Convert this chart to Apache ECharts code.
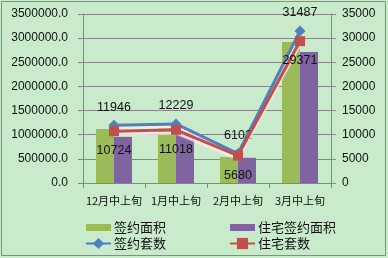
<!DOCTYPE html>
<html><head><meta charset="utf-8">
<script src="https://cdn.jsdelivr.net/npm/echarts@6/dist/echarts.min.js"></script>
<style>html,body{margin:0;padding:0;background:#c9ebcb;}#c{width:388px;height:258px;}</style>
</head><body><div id="c"></div>
<script>
var categories = ['12月中上旬','1月中上旬','2月中上旬','3月中上旬'];
var signArea = [1120000, 1150000, 540000, 2920000];
var resArea = [955000, 1060000, 522000, 2715000];
var signCount = [11946, 12229, 6102, 31487];
var resCount = [10724, 11018, 5680, 29371];
var leftTicks = {min: 0, max: 3500000, interval: 500000};
var rightTicks = {min: 0, max: 35000, interval: 5000};

var FONT = '"Liberation Sans", Arial, sans-serif';
var CJK = '"Noto Sans CJK SC", sans-serif';
var axisCol = '#868686';
var chart = echarts.init(document.getElementById('c'));
chart.setOption({
  backgroundColor: '#c9ebcb',
  animation: false,
  graphic: [{type:'rect', shape:{x:1.5,y:1.5,width:384,height:254}, style:{fill:'none', stroke:'#8a8a8a', lineWidth:1}, z:-1}],
  grid: {left: 83, right: 57, top: 14, bottom: 75},
  legend: [{
    left: 80, top: 216, orient: 'vertical', itemGap: 3, itemWidth: 25, itemHeight: 14,
    textStyle: {fontFamily: CJK, fontSize: 13, color: '#111', padding:[0,0,0,-2]},
    data: [{name:'签约面积', icon:'path://M0,0h25v7h-25z'}, {name:'签约套数'}]
  },{
    left: 224, top: 216, orient: 'vertical', itemGap: 3, itemWidth: 25, itemHeight: 14,
    textStyle: {fontFamily: CJK, fontSize: 13, color: '#111', padding:[0,0,0,-2]},
    data: [{name:'住宅签约面积', icon:'path://M0,0h25v7h-25z'}, {name:'住宅套数'}]
  }],
  xAxis: {
    type: 'category', data: categories, boundaryGap: true,
    axisLine: {lineStyle: {color: axisCol}},
    axisTick: {show: true, inside: false, length: 5, alignWithLabel: false, lineStyle:{color: axisCol}},
    axisLabel: {fontFamily: CJK, fontSize: 11, color: '#111', margin: 12, interval: 0}
  },
  yAxis: [{
    type: 'value', min: leftTicks.min, max: leftTicks.max, interval: leftTicks.interval,
    axisLine: {show: true, lineStyle: {color: axisCol}},
    axisTick: {show: true, length: 5, lineStyle: {color: axisCol}},
    splitLine: {show: true, lineStyle: {color: axisCol, width: 1}},
    axisLabel: {fontFamily: FONT, fontSize: 12, color: '#111', margin: 15, formatter: function(v){return v.toFixed(1);}}
  },{
    type: 'value', min: rightTicks.min, max: rightTicks.max, interval: rightTicks.interval,
    axisLine: {show: true, lineStyle: {color: axisCol}},
    axisTick: {show: true, length: 5, lineStyle: {color: axisCol}},
    splitLine: {show: false},
    axisLabel: {fontFamily: FONT, fontSize: 12, color: '#111', margin: 11, formatter: function(v){return String(v);}}
  }],
  series: [
    {name:'签约面积', type:'bar', data: signArea, barWidth: 18, barGap: '0%', itemStyle:{color:'#9bbb59'}},
    {name:'住宅签约面积', type:'bar', data: resArea, barWidth: 18, barGap: '0%', itemStyle:{color:'#8064a2'}},
    {name:'签约套数', type:'line', yAxisIndex: 1, data: signCount, symbol:'diamond', symbolSize: 11,
      lineStyle:{color:'#4f81bd', width:3, shadowColor:'rgba(255,235,235,0.9)', shadowOffsetY:3, shadowBlur:1},
      itemStyle:{color:'#4f81bd'},
      label:{show:true, position:'top', distance: 6, fontFamily: FONT, fontSize: 12.5, color:'#111'}, z: 3},
    {name:'住宅套数', type:'line', yAxisIndex: 1, data: resCount, symbol:'rect', symbolSize: 10,
      lineStyle:{color:'#c0504d', width:3, shadowColor:'rgba(255,235,235,0.9)', shadowOffsetY:3, shadowBlur:1},
      itemStyle:{color:'#c0504d'},
      label:{show:true, position:'bottom', distance: 8, fontFamily: FONT, fontSize: 12.5, color:'#111'}, z: 4}
  ]
});
</script></body></html>
